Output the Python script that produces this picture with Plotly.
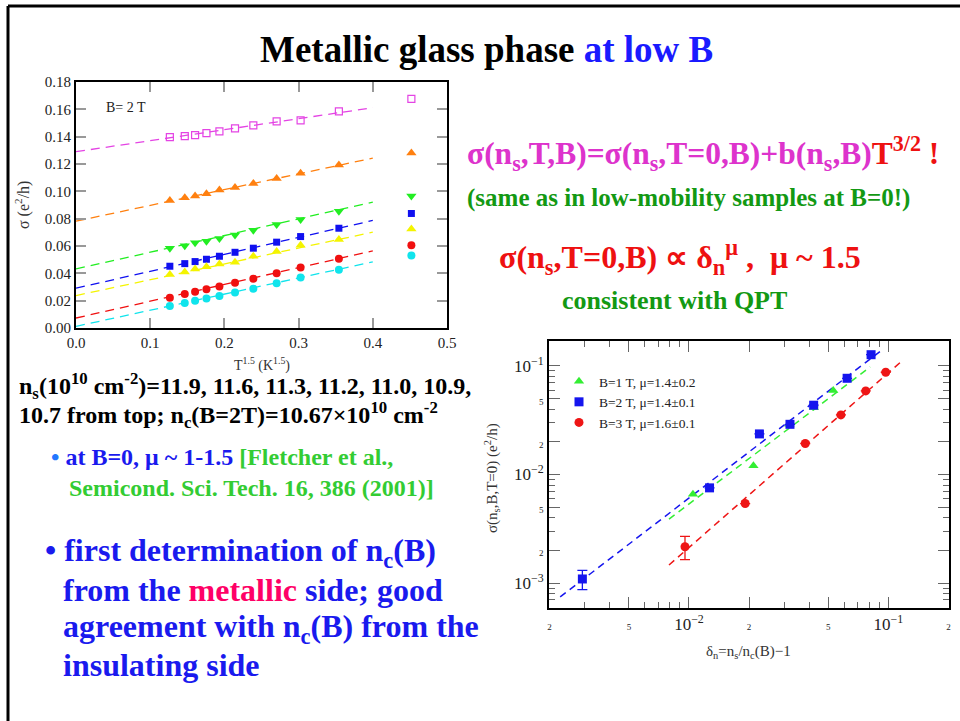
import numpy as np
import plotly.graph_objects as go

W, H = 960, 721
SERIF = "Liberation Serif, Times New Roman, serif"


def px(x):
    return x / W


def py(y):
    return 1 - y / H


# ---------------- left panel: sigma vs T^1.5 at B = 2 T ----------------
t15 = [0.1265, 0.1466, 0.1605, 0.1758, 0.1933, 0.2143, 0.239, 0.2704, 0.3027, 0.3543, 0.452]

ns_values = ["11.9", "11.6", "11.3", "11.2", "11.0", "10.9", "10.7"]
sigma_119 = [0.1397, 0.1404, 0.1412, 0.1426, 0.1439, 0.1461, 0.1483, 0.1512, 0.1519, 0.1585, 0.1676]
sigma_116 = [0.0933, 0.0953, 0.0965, 0.0982, 0.1009, 0.1028, 0.1058, 0.1094, 0.1133, 0.1192, 0.1280]
sigma_113 = [0.0584, 0.0601, 0.0623, 0.0635, 0.0655, 0.0681, 0.0716, 0.0757, 0.0794, 0.0855, 0.0965]
sigma_112 = [0.0452, 0.0471, 0.0486, 0.0503, 0.0525, 0.0554, 0.0584, 0.0628, 0.0669, 0.0730, 0.0838]
sigma_110 = [0.0391, 0.0410, 0.0432, 0.0449, 0.0469, 0.0481, 0.0525, 0.0559, 0.0606, 0.0647, 0.0725]
sigma_109 = [0.0222, 0.0249, 0.0266, 0.0283, 0.0303, 0.0332, 0.0361, 0.0401, 0.0442, 0.0506, 0.0606]
sigma_107 = [0.0161, 0.0183, 0.0200, 0.0215, 0.0234, 0.0259, 0.0288, 0.0327, 0.0369, 0.0427, 0.0530]

# linear fits sigma = sigma0 + b * T^1.5
fit_sigma0 = [0.1290, 0.0782, 0.0432, 0.0291, 0.0237, 0.0073, 0.0012]
fit_b = [0.0805, 0.1153, 0.1223, 0.1240, 0.1160, 0.1228, 0.1180]
fit_tmax = 0.4

series_left = [sigma_119, sigma_116, sigma_113, sigma_112, sigma_110, sigma_109, sigma_107]
colors_left = ["#e444e4", "#ff8010", "#22ee22", "#1010f0", "#f4f400", "#f01010", "#10e4ec"]
symbols_left = ["square-open", "triangle-up", "triangle-down", "square", "triangle-up", "circle", "circle"]
sizes_left = [7, 9, 9, 7, 9, 8, 8]

# ---------------- right panel: sigma(T=0) vs delta_n ----------------
delta_1T = [0.01047, 0.02105, 0.0319, 0.0423, 0.0529]
sigma_1T = [0.00659, 0.01202, 0.0290, 0.0414, 0.0593]

delta_2T = [0.00292, 0.01268, 0.02256, 0.0321, 0.0422, 0.0621, 0.0819]
sigma_2T = [0.00109, 0.00753, 0.02366, 0.0290, 0.0435, 0.0770, 0.127]
err_up_2T = [0.00022, 0, 0, 0, 0, 0, 0]
err_dn_2T = [0.00022, 0, 0, 0, 0, 0, 0]

delta_3T = [0.00955, 0.01914, 0.0383, 0.0578, 0.0770, 0.0970]
sigma_3T = [0.00216, 0.0054, 0.0193, 0.0354, 0.0589, 0.0875]
err_up_3T = [0.00053, 0, 0, 0, 0, 0]
err_dn_3T = [0.00052, 0, 0, 0, 0, 0]

legend_right = ["B=1 T, \u03bc=1.4\u00b10.2", "B=2 T, \u03bc=1.4\u00b10.1", "B=3 T, \u03bc=1.6\u00b10.1"]
# power-law fits sigma = A * delta^mu over [dmin, dmax]
fit_log10A = [0.508, 0.603, 0.547]
fit_mu = [1.39, 1.41, 1.61]
fit_dmin = [0.00794, 0.00226, 0.00794]
fit_dmax = [0.0810, 0.0908, 0.1189]
colors_right = ["#33ee33", "#1515ee", "#ee1515"]
symbols_right = ["triangle-up", "square", "circle"]

fig = go.Figure()

# left panel traces
for i, ys in enumerate(series_left):
    xs_fit = np.array([0.0, fit_tmax])
    fig.add_trace(go.Scatter(
        x=xs_fit, y=fit_sigma0[i] + fit_b[i] * xs_fit, mode="lines",
        line=dict(color=colors_left[i], width=1.3, dash="9px,6px"),
        xaxis="x", yaxis="y", showlegend=False, hoverinfo="skip"))
    fig.add_trace(go.Scatter(
        x=t15, y=ys, mode="markers", name="n_s=" + ns_values[i],
        marker=dict(symbol=symbols_left[i], size=sizes_left[i], color=colors_left[i],
                    line=dict(width=1.2 if symbols_left[i].endswith("open") else 0,
                              color=colors_left[i])),
        xaxis="x", yaxis="y", showlegend=False))

# right panel traces
data_right = [(delta_1T, sigma_1T, None, None),
              (delta_2T, sigma_2T, err_up_2T, err_dn_2T),
              (delta_3T, sigma_3T, err_up_3T, err_dn_3T)]
for i, (dx, sy, eu, ed) in enumerate(data_right):
    d_fit = np.array([fit_dmin[i], fit_dmax[i]])
    fig.add_trace(go.Scatter(
        x=d_fit, y=10 ** fit_log10A[i] * d_fit ** fit_mu[i], mode="lines",
        line=dict(color=colors_right[i], width=1.5, dash="7px,5px"),
        xaxis="x2", yaxis="y2", showlegend=False, hoverinfo="skip"))
for i, (dx, sy, eu, ed) in enumerate(data_right):
    err = None
    if eu is not None:
        err = dict(type="data", array=eu, arrayminus=ed, visible=True,
                   color=colors_right[i], thickness=1.3, width=5)
    fig.add_trace(go.Scatter(
        x=dx, y=sy, mode="markers", name=legend_right[i],
        marker=dict(symbol=symbols_right[i], size=9, color=colors_right[i]),
        error_y=err, xaxis="x2", yaxis="y2", showlegend=True))

axis_common = dict(showline=True, linecolor="black", linewidth=2, mirror="ticks",
                   ticks="inside", showgrid=False, zeroline=False, automargin=False)

x2_major = [0.002, 0.005, 0.01, 0.02, 0.05, 0.1, 0.2]
x2_text = ["<span style='font-size:9px'>2</span>", "<span style='font-size:9px'>5</span>",
           "10<sup>\u22122</sup>", "<span style='font-size:9px'>2</span>",
           "<span style='font-size:9px'>5</span>", "10<sup>\u22121</sup>",
           "<span style='font-size:9px'>2</span>"]
x2_minor = [0.003, 0.004, 0.006, 0.007, 0.008, 0.009, 0.03, 0.04, 0.06, 0.07, 0.08, 0.09]
y2_major = [0.001, 0.002, 0.005, 0.01, 0.02, 0.05, 0.1]
y2_text = ["10<sup>\u22123</sup>", "<span style='font-size:9px'>2</span>",
           "<span style='font-size:9px'>5</span>", "10<sup>\u22122</sup>",
           "<span style='font-size:9px'>2</span>", "<span style='font-size:9px'>5</span>",
           "10<sup>\u22121</sup>"]
y2_minor = [0.0007, 0.0008, 0.0009, 0.003, 0.004, 0.006, 0.007, 0.008, 0.009,
            0.03, 0.04, 0.06, 0.07, 0.08, 0.09]

fig.update_layout(
    width=W, height=H, margin=dict(l=0, r=0, t=0, b=0, autoexpand=False),
    paper_bgcolor="white", plot_bgcolor="white",
    font=dict(family=SERIF, color="black"),
    xaxis=dict(domain=[px(76), px(447)], range=[0, 0.5], dtick=0.1, tickformat=".1f",
               anchor="y", ticklen=10, tickcolor="#999", tickwidth=1.5,
               tickfont=dict(size=15, family=SERIF, color="#222"), **axis_common),
    yaxis=dict(domain=[py(328), py(82)], range=[0, 0.18], dtick=0.02, tickformat=".2f",
               anchor="x", ticklen=10, tickcolor="#999", tickwidth=1.5,
               tickfont=dict(size=15, family=SERIF, color="#222"), **axis_common),
    xaxis2=dict(domain=[px(549), px(949)], type="log", range=[np.log10(0.002) - 0.003, np.log10(0.2) + 0.003],
                anchor="y2", tickmode="array", tickvals=x2_major, ticktext=x2_text,
                ticklen=11, tickcolor="#666", tickwidth=1,
                minor=dict(tickmode="array", tickvals=x2_minor, ticks="inside", ticklen=6,
                           tickcolor="#666", tickwidth=1),
                tickfont=dict(size=17, family=SERIF, color="#222"), **axis_common),
    yaxis2=dict(domain=[py(608), py(341)], type="log", range=[-3.23, -0.77],
                anchor="x2", tickmode="array", tickvals=y2_major, ticktext=y2_text,
                ticklen=11, tickcolor="#666", tickwidth=1,
                minor=dict(tickmode="array", tickvals=y2_minor, ticks="inside", ticklen=6,
                           tickcolor="#666", tickwidth=1),
                tickfont=dict(size=17, family=SERIF, color="#222"), **axis_common),
    legend=dict(x=px(559), y=py(366), xanchor="left", yanchor="top",
                bgcolor="rgba(0,0,0,0)", font=dict(size=13.5, family=SERIF, color="#222"),
                itemwidth=30, tracegroupgap=0),
)

BLUE = "#1a1aee"
GREEN_R = "#139913"
GREEN_L = "#33cc33"
MAG = "#dd33cc"
RED = "#ee1111"

annotations = [
    # title
    dict(x=px(486), y=py(50), xanchor="center", yanchor="middle",
         text="<b>Metallic glass phase <span style='color:#1a1aff'>at low B</span></b>",
         font=dict(size=37, color="black")),
    # axis titles, left panel
    dict(x=px(262), y=py(364), xanchor="center", yanchor="middle",
         text="T<sup>1.5</sup> (K<sup>1.5</sup>)", font=dict(size=14, color="#333")),
    dict(x=px(22), y=py(205), xanchor="center", yanchor="middle", textangle=-90,
         text="\u03c3 (e<sup>2</sup>/h)", font=dict(size=16, color="#333")),
    dict(x=px(104), y=py(108), xanchor="left", yanchor="middle",
         text="B= 2 T", font=dict(size=14, color="#222")),
    # axis titles, right panel
    dict(x=px(748), y=py(652), xanchor="center", yanchor="middle",
         text="\u03b4<sub>n</sub>=n<sub>s</sub>/n<sub>c</sub>(B)\u22121", font=dict(size=15, color="#333")),
    dict(x=px(492), y=py(478), xanchor="center", yanchor="middle", textangle=-90,
         text="\u03c3(n<sub>s</sub>,B,T=0) (e<sup>2</sup>/h)", font=dict(size=15, color="#333")),
    # right column text
    dict(x=px(465), y=py(153), xanchor="left", yanchor="middle",
         text=("<b><span style='color:%s'>\u03c3(n<sub>s</sub>,T,B)=\u03c3(n<sub>s</sub>,T=0,B)+b(n<sub>s</sub>,B)</span>"
               "<span style='color:%s'>T<sup>3/2</sup> !</span></b>") % (MAG, RED),
         font=dict(size=31.5)),
    dict(x=px(465), y=py(198), xanchor="left", yanchor="middle",
         text="<b>(same as in low-mobility samples at B=0!)</b>",
         font=dict(size=25, color=GREEN_R)),
    dict(x=px(497), y=py(257), xanchor="left", yanchor="middle",
         text="<b>\u03c3(n<sub>s</sub>,T=0,B) \u221d \u03b4<sub>n</sub><sup>\u03bc</sup> ,  \u03bc ~ 1.5</b>",
         font=dict(size=32, color=RED)),
    dict(x=px(560), y=py(300), xanchor="left", yanchor="middle",
         text="<b>consistent with QPT</b>", font=dict(size=26, color=GREEN_R)),
    # left column text
    dict(x=px(17), y=py(386), xanchor="left", yanchor="middle",
         text="<b>n<sub>s</sub>(10<sup>10</sup> cm<sup>-2</sup>)=" + ", ".join(ns_values[:6]) + ",</b>",
         font=dict(size=24, color="black")),
    dict(x=px(17), y=py(415), xanchor="left", yanchor="middle",
         text="<b>" + ns_values[6] + " from top; n<sub>c</sub>(B=2T)=10.67\u00d710<sup>10</sup> cm<sup>-2</sup></b>",
         font=dict(size=24, color="black")),
    dict(x=px(49), y=py(457), xanchor="left", yanchor="middle",
         text=("<b><span style='color:#2277ff'>\u2022</span> <span style='color:%s'>at B=0, \u03bc ~ 1-1.5</span> "
               "<span style='color:%s'>[Fletcher et al.,</span></b>") % (BLUE, GREEN_L),
         font=dict(size=24)),
    dict(x=px(67), y=py(488), xanchor="left", yanchor="middle",
         text="<b>Semicond. Sci. Tech. 16, 386 (2001)]</b>", font=dict(size=24, color=GREEN_L)),
    dict(x=px(43), y=py(552), xanchor="left", yanchor="middle",
         text="<b>\u2022 first determination of n<sub>c</sub>(B)</b>", font=dict(size=32, color=BLUE)),
    dict(x=px(61), y=py(590), xanchor="left", yanchor="middle",
         text="<b>from the <span style='color:#ff0066'>metallic</span> side; good</b>",
         font=dict(size=32, color=BLUE)),
    dict(x=px(61), y=py(628), xanchor="left", yanchor="middle",
         text="<b>agreement with n<sub>c</sub>(B) from the</b>", font=dict(size=32, color=BLUE)),
    dict(x=px(61), y=py(665), xanchor="left", yanchor="middle",
         text="<b>insulating side</b>", font=dict(size=32, color=BLUE)),
]
for a in annotations:
    a.setdefault("xref", "paper")
    a.setdefault("yref", "paper")
    a.setdefault("showarrow", False)
    a["font"].setdefault("family", SERIF)
fig.update_layout(annotations=annotations)

# slide frame (top and left edges)
fig.update_layout(shapes=[
    dict(type="line", xref="paper", yref="paper", x0=px(8), x1=1.0, y0=py(6), y1=py(6),
         line=dict(color="black", width=3)),
    dict(type="line", xref="paper", yref="paper", x0=px(8), x1=px(8), y0=py(6), y1=0,
         line=dict(color="black", width=3)),
])

fig.write_html("out.html")
